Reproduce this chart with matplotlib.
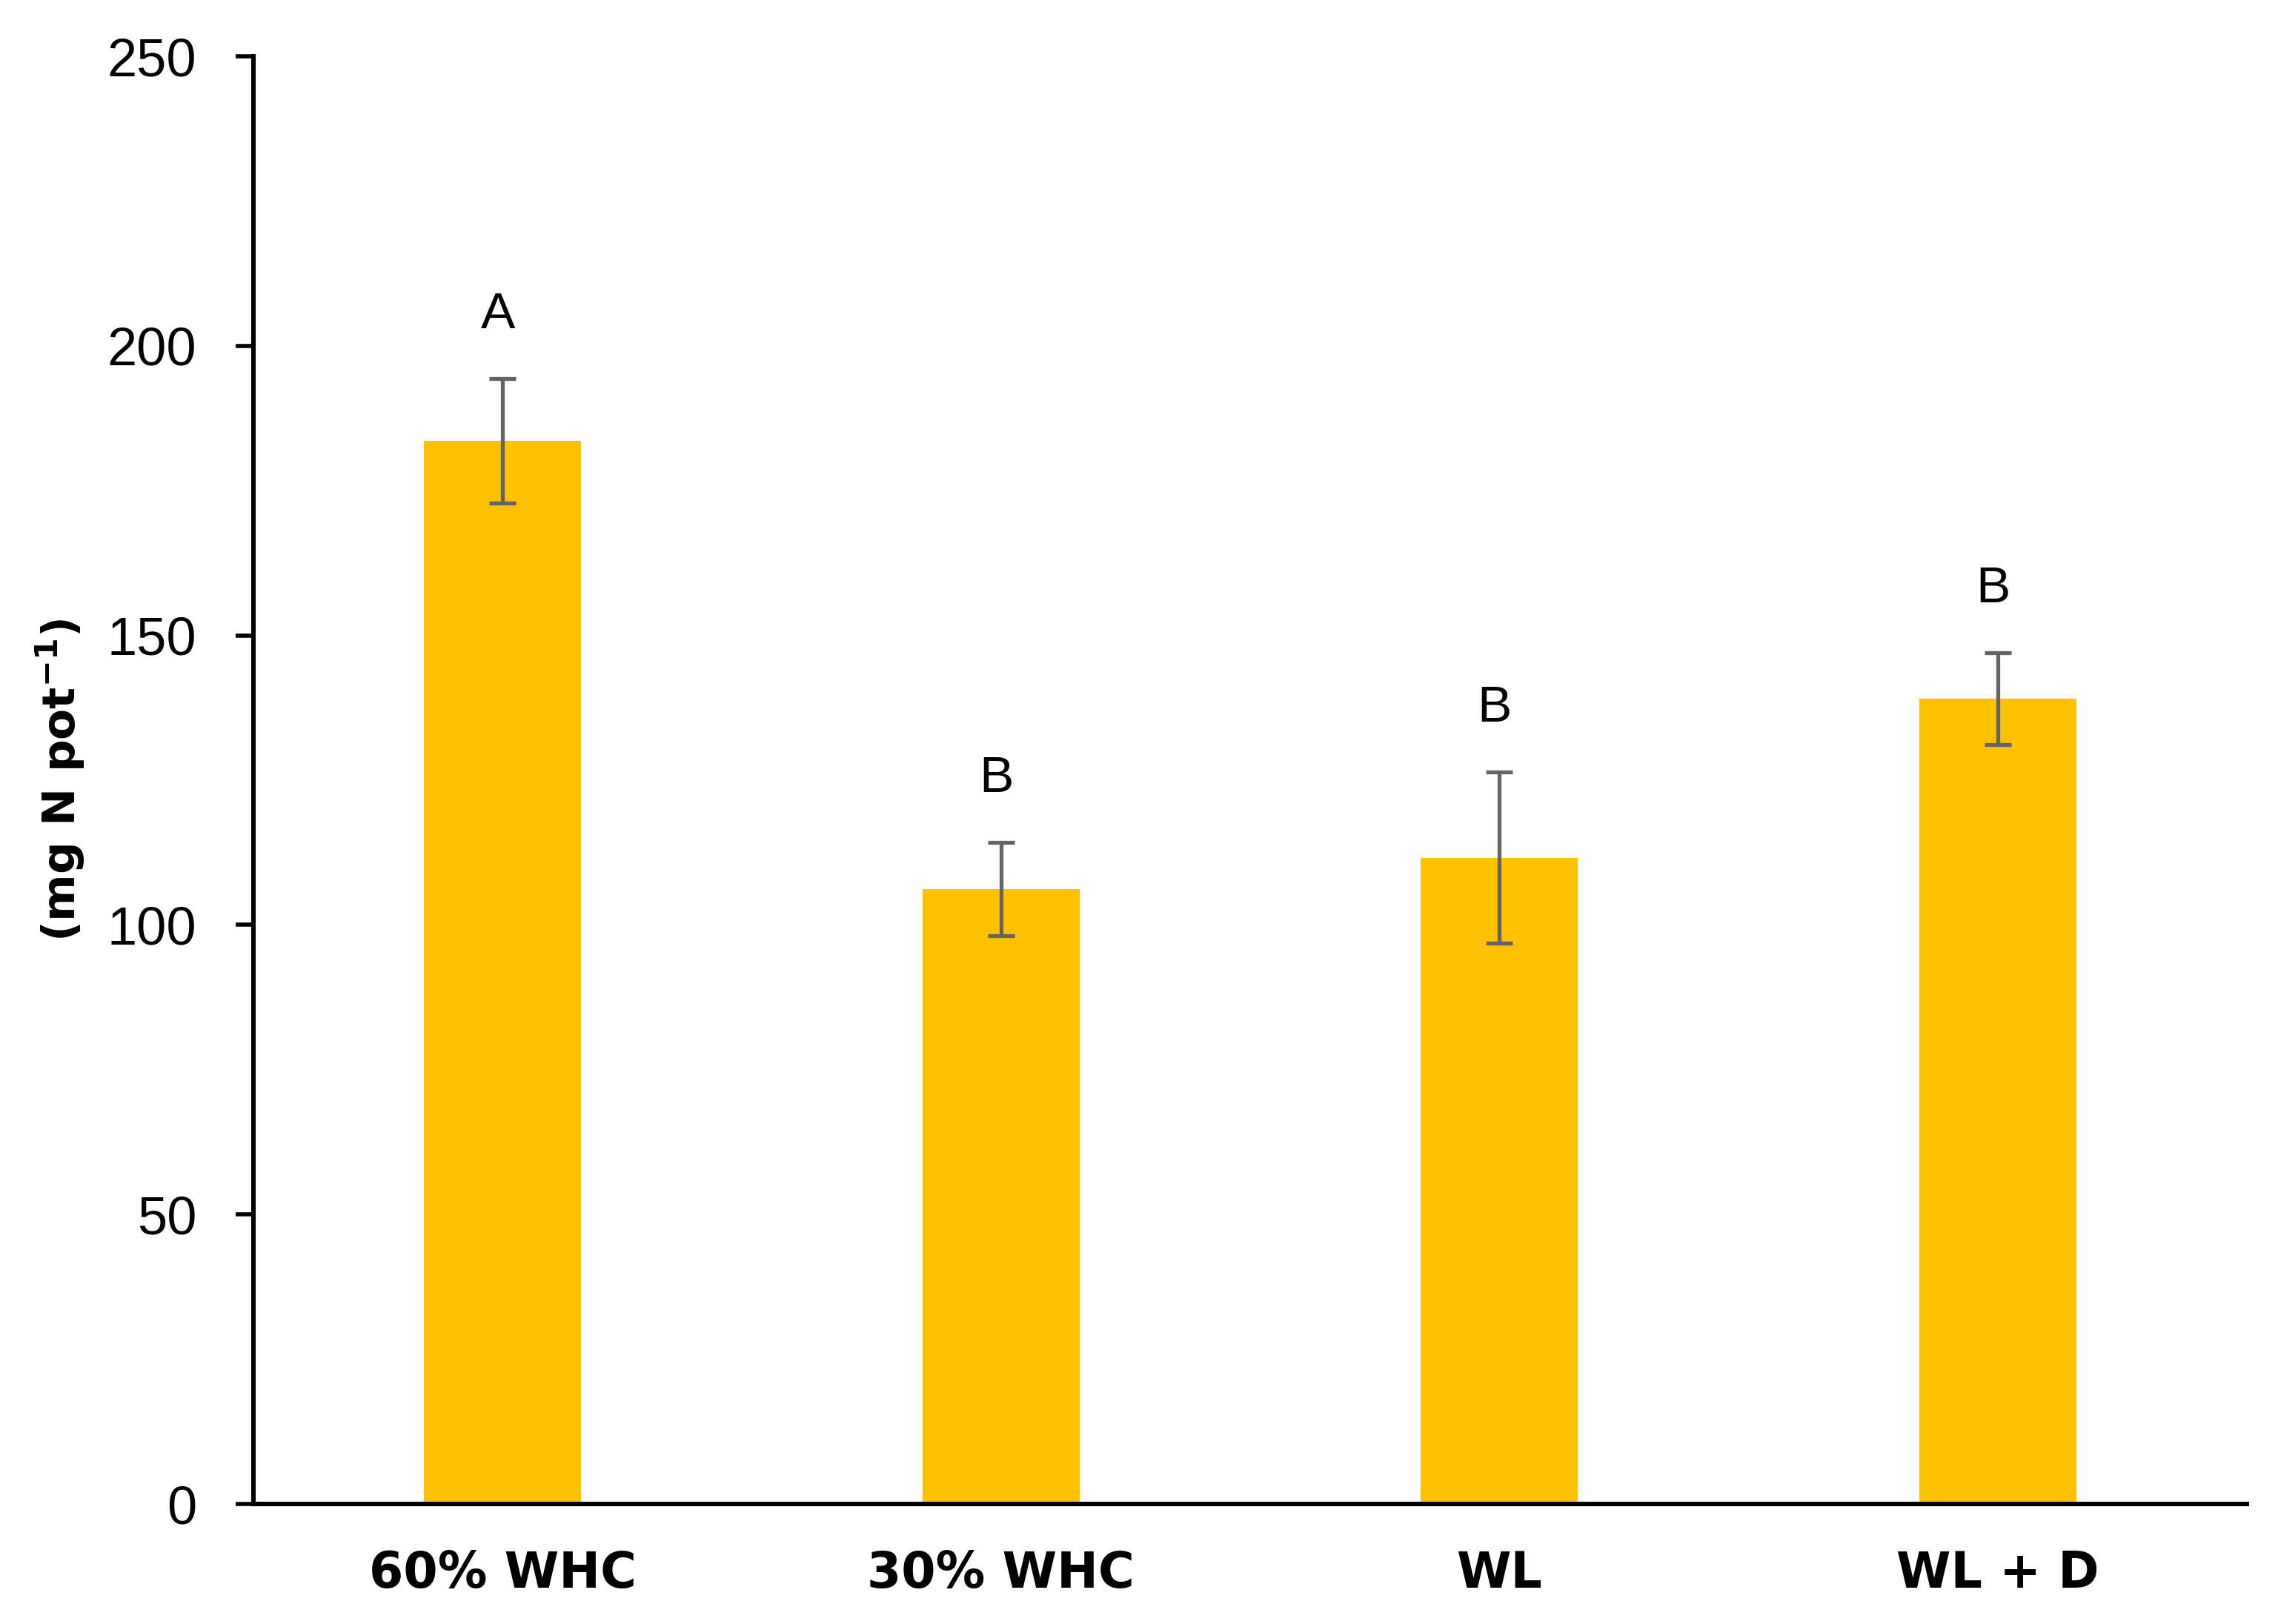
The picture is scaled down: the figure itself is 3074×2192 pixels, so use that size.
import matplotlib.pyplot as plt
import numpy as np

# Treatments and N values
treatments = ['60% WHC', '30% WHC', 'WL', 'WL + D']
means = [183.6, 106.2, 111.6, 139.1]
errors = [10.8, 8.0, 14.8, 7.9]
letters = ['A', 'B', 'B', 'B']
yticks = [0, 50, 100, 150, 200, 250]

fig = plt.figure(figsize=(15.37, 10.96), dpi=200)
ax = fig.add_axes([0.1113, 0.0739, 0.8750, 0.8914])

x = np.arange(len(treatments))
ax.bar(x, means, width=0.315, color='#FFC000', zorder=2)
ax.errorbar(x, means, yerr=errors, fmt='none', ecolor='#646464',
            elinewidth=1.9, capsize=6.5, capthick=1.9, zorder=3)

# significance letters above error bars
for xi, m, e, lab in zip(x, means, errors, letters):
    ax.text(xi - 0.01, m + e + 11, lab, ha='center', va='center',
            fontsize=25, family='Liberation Sans', color='black')

ax.set_xlim(-0.5, 3.5)
ax.set_ylim(0, 250)
ax.set_yticks(yticks)
ax.set_xticks(x)
ax.set_xticklabels(treatments, fontsize=24, fontweight='bold', family='DejaVu Sans')
ax.tick_params(axis='x', length=0, pad=22)
ax.tick_params(axis='y', length=8.6, width=2, pad=19, labelsize=26)
for t in ax.get_yticklabels():
    t.set_family('Liberation Sans')

for s in ['top', 'right']:
    ax.spines[s].set_visible(False)
for s in ['left', 'bottom']:
    ax.spines[s].set_linewidth(2.2)

ax.set_ylabel('(mg N pot$^{\\mathbf{-1}}$)', fontsize=22, fontweight='bold',
              family='DejaVu Sans', labelpad=10)

plt.savefig('out.png', dpi=200)
